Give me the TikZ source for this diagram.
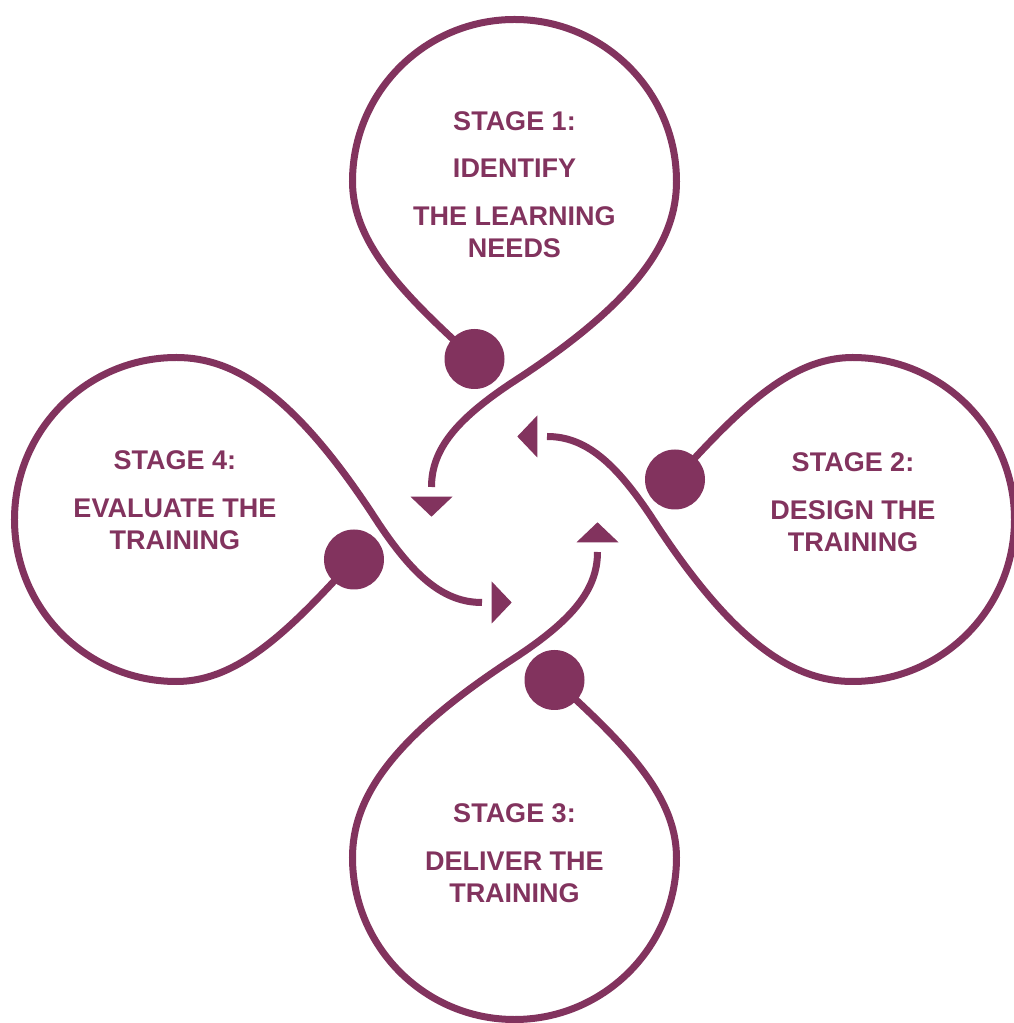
\documentclass[tikz,border=0pt]{standalone}
\usepackage{fontspec}
\setmainfont{Liberation Sans}

\definecolor{plum}{RGB}{130,51,94}

\tikzset{
	stagetext/.style = {font = \bfseries\fontsize{20.25}{24}\selectfont, text = plum, text height = 14.5pt, text depth = 0pt, inner sep = 0pt}
}

\begin{document}
\begin{tikzpicture}[x = 0.75pt, y = 0.75pt]
		\def\rad{162};
		\def\dist{338};
		
		\fill [white] (-514.5,-503.5) rectangle (498.5,519.5);
		\useasboundingbox (-514.5,-503.5) rectangle (498.5,519.5);
		
		\foreach \rot/\i in {0/1, -90/2, -180/3, -270/4} {
			\begin{scope}[rotate = \rot]
				\coordinate (dot\i) at (-40,160.5);
				\coordinate (left\i) at ({-\rad},\dist);
				\coordinate (cross\i) at (1.5,139.5);
				\coordinate (end\i) at (-83,32.5);
				
				\draw [plum, line width = 5.25pt] (dot\i) .. controls (-108,222.5) and ({-\rad},275) .. (left\i)
					arc [start angle = 180, end angle = 0, radius = \rad]
					.. controls (\rad,280) and (125,220) .. (cross\i)
					.. controls (-58.5,100.5) and (-83,70) .. (end\i);
				\fill [plum] (dot\i) circle [radius = 30];
				\fill [plum] (-104,22.8) -- (-62,22.8) -- (-83,2.8) -- cycle;
			\end{scope}
		}
		
		\node [stagetext] (title1) at (0,398.5) {STAGE 1:};
		\node [stagetext] (task1) at (0,351.2) {IDENTIFY};
		\node [stagetext] (task1b) at (0,303.7) {THE LEARNING};
		\node [stagetext] (task1c) at (0,271.7) {NEEDS};
		
		\node [stagetext] (title2) at (338.5,57.3) {STAGE 2:};
		\node [stagetext] (task2) at (338.5,9.8) {DESIGN THE};
		\node [stagetext] (task2b) at (338.5,-22.5) {TRAINING};
		
		\node [stagetext] (title3) at (0,-293.8) {STAGE 3:};
		\node [stagetext] (task3) at (0,-341.3) {DELIVER THE};
		\node [stagetext] (task3b) at (0,-373.8) {TRAINING};
		
		\node [stagetext] (title4) at (-339.5,59.8) {STAGE 4:};
		\node [stagetext] (task4) at (-339.5,12) {EVALUATE THE};
		\node [stagetext] (task4b) at (-339.5,-20.2) {TRAINING};
	\end{tikzpicture}
\end{document}
